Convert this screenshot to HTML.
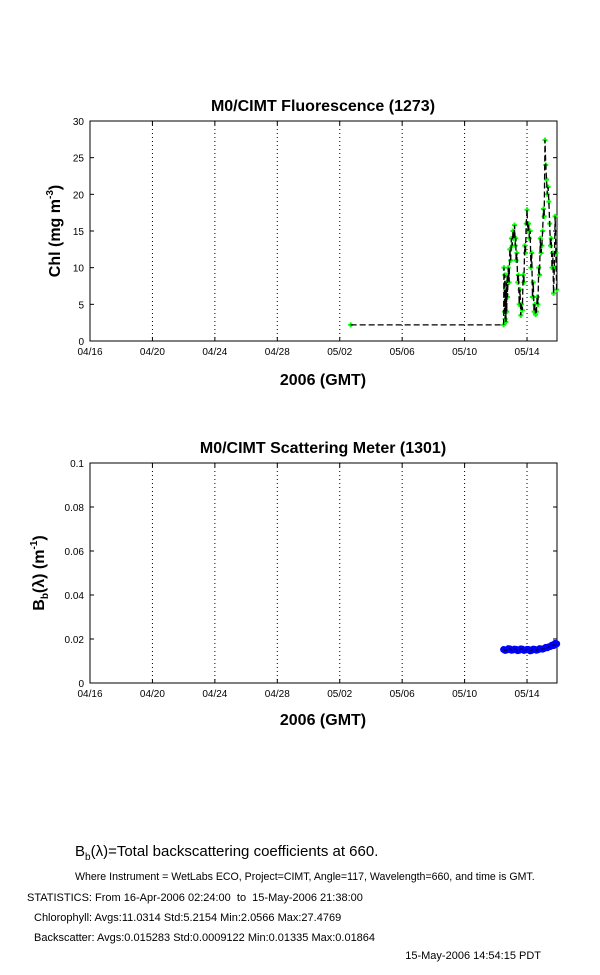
<!DOCTYPE html>
<html><head><meta charset="utf-8"><style>
html,body{margin:0;padding:0;background:#fff;}
svg{display:block;font-family:"Liberation Sans",Arial,sans-serif;}
</style></head><body>
<svg id="svg" width="600" height="975" xmlns="http://www.w3.org/2000/svg">
<text x="323" y="111" font-size="16" font-weight="bold" text-anchor="middle">M0/CIMT Fluorescence (1273)</text>
<text x="323" y="385" font-size="16" font-weight="bold" text-anchor="middle">2006 (GMT)</text>
<text transform="translate(60,231) rotate(-90)" font-size="16" font-weight="bold" text-anchor="middle">Chl (mg m<tspan font-size="10" dy="-7">-3</tspan><tspan dy="7">)</tspan></text>
<text x="323" y="453" font-size="16" font-weight="bold" text-anchor="middle">M0/CIMT Scattering Meter (1301)</text>
<text x="323" y="725" font-size="16" font-weight="bold" text-anchor="middle">2006 (GMT)</text>
<text transform="translate(44,573) rotate(-90)" font-size="16" font-weight="bold" text-anchor="middle">B<tspan font-size="10" dy="4">b</tspan><tspan dy="-4">(λ) (m</tspan><tspan font-size="10" dy="-7">-1</tspan><tspan dy="7">)</tspan></text>
<g id="p1"></g>
<g id="p2"></g>
<text x="75" y="856" font-size="15">B<tspan font-size="10" dy="4">b</tspan><tspan dy="-4">(λ)=Total backscattering coefficients at 660.</tspan></text>
<text x="75" y="880" font-size="10.6">Where Instrument = WetLabs ECO, Project=CIMT, Angle=117, Wavelength=660, and time is GMT.</text>
<text x="27" y="901" font-size="11" xml:space="preserve">STATISTICS: From 16-Apr-2006 02:24:00  to  15-May-2006 21:38:00</text>
<text x="34" y="921" font-size="11">Chlorophyll: Avgs:11.0314 Std:5.2154 Min:2.0566 Max:27.4769</text>
<text x="34" y="941" font-size="11">Backscatter: Avgs:0.015283 Std:0.0009122 Min:0.01335 Max:0.01864</text>
<text x="541" y="959" font-size="11" text-anchor="end">15-May-2006 14:54:15 PDT</text>
</svg>
<script>
const xTickLabels=["04/16","04/20","04/24","04/28","05/02","05/06","05/10","05/14"];
const xTickDays=[0,4,8,12,16,20,24,28];
const chlTimes=[16.7,26.5,26.52,26.55,26.58,26.6,26.62,26.65,26.68,26.7,26.73,26.75,26.8,26.85,26.9,26.95,27.0,27.05,27.1,27.15,27.2,27.25,27.28,27.3,27.35,27.4,27.45,27.5,27.55,27.6,27.65,27.7,27.75,27.8,27.85,27.9,27.95,28.0,28.05,28.1,28.15,28.2,28.25,28.3,28.35,28.4,28.45,28.5,28.55,28.6,28.65,28.7,28.75,28.8,28.85,28.9,28.95,29.0,29.05,29.1,29.15,29.2,29.25,29.3,29.35,29.4,29.45,29.5,29.55,29.6,29.65,29.7,29.75,29.8,29.85,29.9];
const chlValues=[2.2,2.2,10,4,9,3,7,2.6,8,4,9,6,10,8,12.5,11,14,13,15,14,15.8,13,14,11,12,8,9,5,7,3.5,5,4.2,9,8,13,12,16,17.9,15,16,14,15,10,12,6,8,4,5,3.6,4,6,5,10,9,14,12,13,15,18,17,27.4,24,22,20,21,19,16,13,14,10,12,6.5,10,17,12,7];
const chlTicks=[0,5,10,15,20,25,30];
const bbTimes=[26.5,26.6,26.7,26.8,26.9,27.0,27.1,27.2,27.3,27.4,27.5,27.6,27.7,27.8,27.9,28.0,28.1,28.2,28.3,28.4,28.5,28.6,28.7,28.8,28.9,29.0,29.1,29.2,29.3,29.4,29.5,29.6,29.7,29.8,29.9];
const bbValues=[0.0152,0.0148,0.0150,0.0156,0.0155,0.0149,0.0150,0.0154,0.0153,0.0147,0.0149,0.0155,0.0154,0.0148,0.0150,0.0153,0.0152,0.0146,0.0148,0.0154,0.0153,0.0149,0.0151,0.0156,0.0155,0.0154,0.0157,0.0162,0.0160,0.0165,0.0166,0.0172,0.0170,0.0180,0.0178];
const bbTicks=[0,0.02,0.04,0.06,0.08,0.1];
const bbTickLabels=["0","0.02","0.04","0.06","0.08","0.1"];
const NS="http://www.w3.org/2000/svg";
const X0=90,X1=557,D1=29.92;
const xs=d=>X0+(X1-X0)*d/D1;
function mk(g,t,a){const e=document.createElementNS(NS,t);for(const k in a)e.setAttribute(k,a[k]);g.appendChild(e);return e;}
function axes(g,top,bot,ymax,ticks,labels){
  const ys=v=>bot-(bot-top)*v/ymax;
  const f=mk(g,'rect',{x:X0,y:top,width:X1-X0,height:bot-top,fill:'#fff',stroke:'#000','stroke-width':1});
  
  
  xTickDays.forEach((d,i)=>{
    const x=xs(d);
    if(i>0){const gl=mk(g,'line',{x1:x,x2:x,y1:top,y2:bot,stroke:'#000','stroke-dasharray':'1,3'});
      
      }
    mk(g,'line',{x1:x,x2:x,y1:bot,y2:bot-4,stroke:'#000'});
    mk(g,'line',{x1:x,x2:x,y1:top,y2:top+4,stroke:'#000'});
    const t=mk(g,'text',{x:x,y:bot+14,'font-size':10,'text-anchor':'middle'});t.textContent=xTickLabels[i];
    
    
  });
  ticks.forEach((v,i)=>{
    const y=ys(v);
    mk(g,'line',{x1:X0,x2:X0+4,y1:y,y2:y,stroke:'#000'});
    mk(g,'line',{x1:X1,x2:X1-4,y1:y,y2:y,stroke:'#000'});
    const t=mk(g,'text',{x:X0-6,y:y+4,'font-size':10,'text-anchor':'end'});t.textContent=labels[i];
    
    
  });
  return ys;
}
const p1=document.getElementById('p1');
const ys1=axes(p1,121,341,30,chlTicks,chlTicks.map(String));
chlTimes.forEach((t,i)=>{
  const x=xs(t),y=ys1(chlValues[i]);
  const m=mk(p1,'path',{d:`M${x-2.5},${y}H${x+2.5}M${x},${y-2.5}V${y+2.5}`,stroke:'#00ff00','stroke-width':2});
  
  
});
const l1=mk(p1,'polyline',{points:chlTimes.map((t,i)=>xs(t)+','+ys1(chlValues[i])).join(' '),fill:'none',stroke:'#000','stroke-width':1.3,'stroke-dasharray':'6,3'});


const p2=document.getElementById('p2');
const ys2=axes(p2,463,683,0.1,bbTicks,bbTickLabels);
bbTimes.forEach((t,i)=>{
  const c=mk(p2,'circle',{cx:xs(t),cy:ys2(bbValues[i]),r:3.5,fill:'#0000ff'});
  
  
});
const l2=mk(p2,'polyline',{points:bbTimes.map((t,i)=>xs(t)+','+ys2(bbValues[i])).join(' '),fill:'none',stroke:'#000','stroke-width':1,'stroke-dasharray':'4,2'});


</script>
</body></html>
